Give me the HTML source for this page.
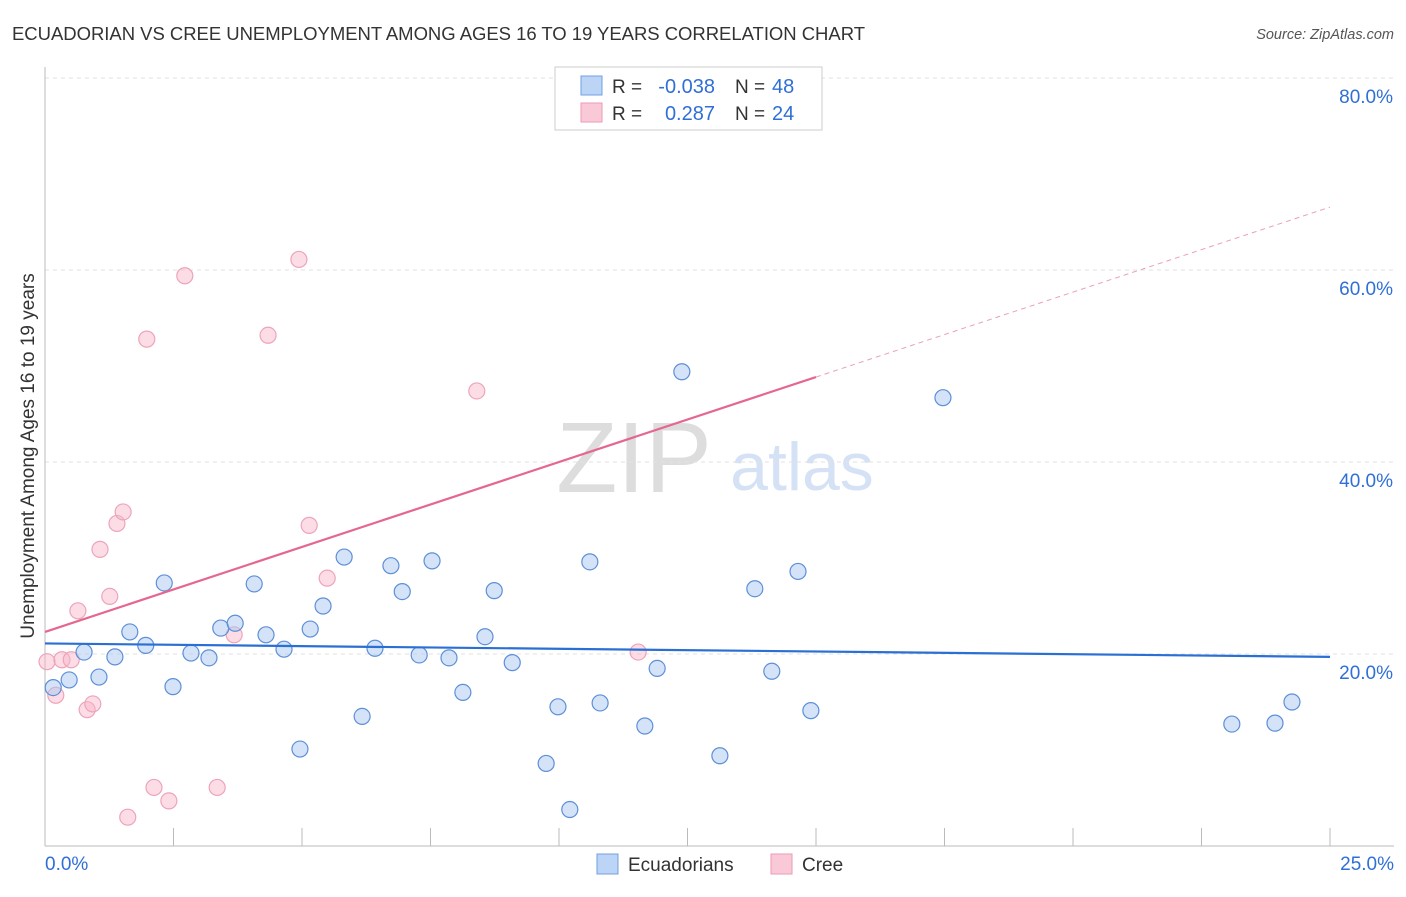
<!DOCTYPE html>
<html><head><meta charset="utf-8"><style>
body{margin:0;background:#fff;font-family:"Liberation Sans",sans-serif}
svg text{font-family:"Liberation Sans",sans-serif}
</style></head><body>
<svg id="chart" width="1406" height="892">
<text x="12" y="40" font-size="18.5" fill="#333" textLength="853">ECUADORIAN VS CREE UNEMPLOYMENT AMONG AGES 16 TO 19 YEARS CORRELATION CHART</text>
<text x="1394" y="39" font-size="14.5" fill="#555" text-anchor="end" font-style="italic">Source: ZipAtlas.com</text>
<text x="34" y="456" font-size="19" fill="#333" text-anchor="middle" transform="rotate(-90 34 456)">Unemployment Among Ages 16 to 19 years</text>
<g><text x="634" y="492" font-size="100" fill="#ddd" font-family="Liberation Serif" text-anchor="middle">ZIP</text><text x="802" y="490" font-size="68" fill="#d5e2f5" text-anchor="middle">atlas</text></g>
<g id="grid"></g><g id="marks"></g>
<g>
<rect x="555" y="67" width="267" height="63" fill="#fff" stroke="#ccc"/>
<rect x="581" y="76" width="21" height="19" fill="#bcd4f5" stroke="#6fa0e0"/>
<rect x="581" y="103" width="21" height="19" fill="#fac9d8" stroke="#ec9ab4"/>
<text x="612" y="93" font-size="19" fill="#333">R =</text>
<text x="715" y="93" font-size="20" fill="#2f6fd6" text-anchor="end">-0.038</text>
<text x="735" y="93" font-size="19" fill="#333">N =</text>
<text x="772" y="93" font-size="20" fill="#2f6fd6">48</text>
<text x="612" y="120" font-size="19" fill="#333">R =</text>
<text x="715" y="120" font-size="20" fill="#2f6fd6" text-anchor="end">0.287</text>
<text x="735" y="120" font-size="19" fill="#333">N =</text>
<text x="772" y="120" font-size="20" fill="#2f6fd6">24</text>
</g>
<g>
<rect x="597" y="854" width="21" height="20" fill="#bcd4f5" stroke="#6fa0e0"/>
<text x="628" y="871" font-size="19" fill="#333">Ecuadorians</text>
<rect x="771" y="854" width="21" height="20" fill="#fac9d8" stroke="#ec9ab4"/>
<text x="802" y="871" font-size="19" fill="#333">Cree</text>
</g>
</svg>
<script>
const yTicks=[20,40,60,80];
const yTickLabels=["20.0%","40.0%","60.0%","80.0%"];
const xTickLabels=["0.0%","25.0%"];
const blueX=[0.16,0.47,0.76,1.05,1.36,1.65,1.96,2.32,2.49,2.84,3.19,3.42,3.70,4.07,4.30,4.65,4.96,5.16,5.41,5.82,6.17,6.42,6.73,6.95,7.28,7.53,7.86,8.13,8.56,8.74,9.09,9.75,9.98,10.21,10.60,10.80,11.67,11.91,12.39,13.13,13.81,14.14,14.65,14.90,17.47,23.09,23.93,24.26];
const blueY=[16.5,17.3,20.2,17.6,19.7,22.3,20.9,27.4,16.6,20.1,19.6,22.7,23.2,27.3,22.0,20.5,10.1,22.6,25.0,30.1,13.5,20.6,29.2,26.5,19.9,29.7,19.6,16.0,21.8,26.6,19.1,8.6,14.5,3.8,29.6,14.9,12.5,18.5,49.4,9.4,26.8,18.2,28.6,14.1,46.7,12.7,12.8,15.0];
const pinkX=[0.04,0.21,0.33,0.51,0.64,0.82,0.93,1.07,1.26,1.40,1.52,1.61,1.98,2.12,2.41,2.72,3.35,3.68,4.34,4.94,5.14,5.49,8.40,11.54];
const pinkY=[19.2,15.7,19.4,19.4,24.5,14.2,14.8,30.9,26.0,33.6,34.8,3.0,52.8,6.1,4.7,59.4,6.1,22.0,53.2,61.1,33.4,27.9,47.4,20.2];
const blueLine=[21.1,-0.056];
const pinkLine=[22.3,1.77];
const pinkSolidEnd=15;
const NS="http://www.w3.org/2000/svg";
const sx=v=>45+v*(1285/25), sy=v=>846-v*9.6;
function mk(t,a,p){const e=document.createElementNS(NS,t);for(const k in a)e.setAttribute(k,a[k]);p.appendChild(e);return e;}
const g=document.getElementById('grid'),m=document.getElementById('marks');
yTicks.forEach((v,i)=>{
 const l=mk('line',{x1:45,x2:1394,y1:sy(v),y2:sy(v),stroke:'#e2e2e2','stroke-dasharray':'4,4'},g);
 
 
 const t=mk('text',{x:1393,y:sy(v)+25,'font-size':19,fill:'#2f6fd6','text-anchor':'end'},g);t.textContent=yTickLabels[i];
 
 
});
mk('line',{x1:45,x2:1394,y1:846,y2:846,stroke:'#bbb'},g);
mk('line',{x1:45,x2:45,y1:67,y2:846,stroke:'#bbb'},g);
for(let i=0;i<=10;i++){const t=mk('line',{x1:sx(i*2.5),x2:sx(i*2.5),y1:828,y2:846,stroke:'#bbb'},g);
 
 }
[[0,'start',45],[25,'end',1394]].forEach((d,i)=>{const t=mk('text',{x:d[2],y:870,'font-size':19,fill:'#2f6fd6','text-anchor':d[1]},g);t.textContent=xTickLabels[i];
 
 });
pinkX.forEach((x,i)=>{const c=mk('circle',{cx:sx(x),cy:sy(pinkY[i]),r:8,fill:'rgba(248,180,200,0.45)',stroke:'#eda4bb','stroke-width':1.2},m);
 
 });
blueX.forEach((x,i)=>{const c=mk('circle',{cx:sx(x),cy:sy(blueY[i]),r:8,fill:'rgba(170,200,240,0.5)',stroke:'#5d8fd8','stroke-width':1.2},m);
 
 });
const bl=mk('line',{x1:sx(0),y1:sy(blueLine[0]),x2:sx(25),y2:sy(blueLine[0]+blueLine[1]*25),stroke:'#2a6fd4','stroke-width':2.2},m);


const pl=mk('line',{x1:sx(0),y1:sy(pinkLine[0]),x2:sx(pinkSolidEnd),y2:sy(pinkLine[0]+pinkLine[1]*pinkSolidEnd),stroke:'#e5678f','stroke-width':2.2},m);


const pd=mk('line',{x1:sx(pinkSolidEnd),y1:sy(pinkLine[0]+pinkLine[1]*pinkSolidEnd),x2:sx(25),y2:sy(pinkLine[0]+pinkLine[1]*25),stroke:'#eaa0b8','stroke-width':1,'stroke-dasharray':'5,4'},m);


</script>
</body></html>
